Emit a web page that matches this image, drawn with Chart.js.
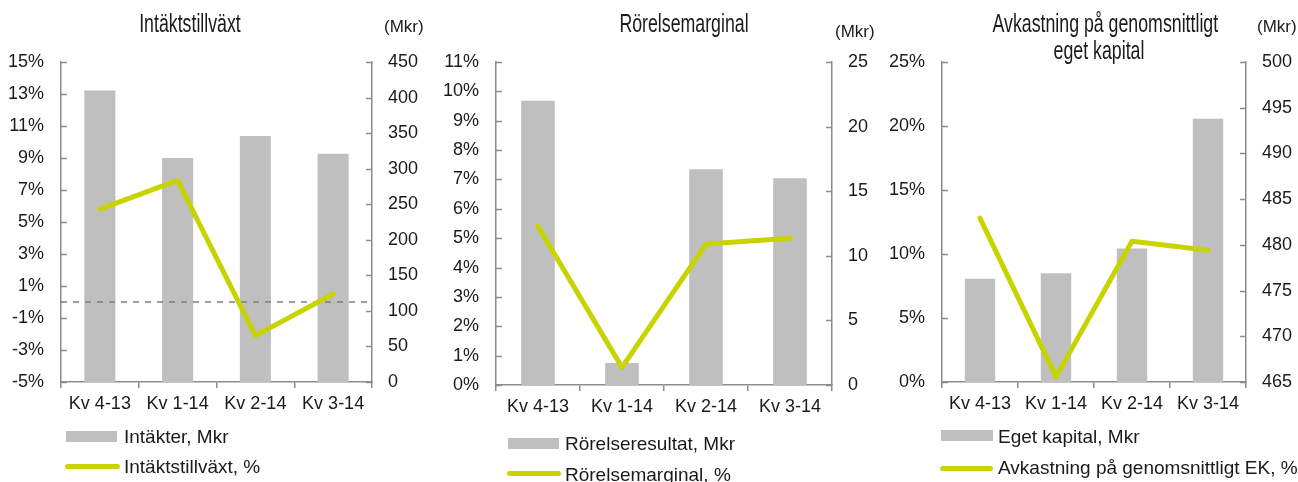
<!DOCTYPE html>
<html lang="sv">
<head>
    <meta charset="UTF-8">
    <title>Intäktstillväxt, Rörelsemarginal, Avkastning</title>
    <script src="https://cdn.jsdelivr.net/npm/chart.js"></script>
    <style>
        body { margin: 0; width: 1298px; height: 482px; overflow: hidden; background: #fff; position: relative; font-family: "Liberation Sans", Arial, sans-serif; color: #1a1a1a; }
        canvas { position: absolute; top: 0; }
        .title { position: absolute; font-family: "Liberation Sans", Arial, sans-serif; font-size: 25px; line-height: 27px; text-align: center; white-space: nowrap; transform: scaleX(0.71); transform-origin: center; }
        .unit { position: absolute; font-size: 17px; line-height: 17px; white-space: nowrap; }
        .leg { position: absolute; font-size: 19px; line-height: 19px; white-space: nowrap; }
        .box { position: absolute; background: #bfbfbf; }
        .ln { position: absolute; height: 5px; border-radius: 3px; background: #c8d400; }
    </style>
</head>
<body>
    <canvas id="c1" width="430" height="482" style="left:0px"></canvas>
    <canvas id="c2" width="450" height="482" style="left:430px"></canvas>
    <canvas id="c3" width="428" height="482" style="left:870px"></canvas>

    <div class="title" style="left:40px;width:300px;top:10px">Intäktstillväxt</div>
    <div class="title" style="left:534px;width:300px;top:10px">Rörelsemarginal</div>
    <div class="title" style="left:949px;width:300px;top:10px">Avkastning på genomsnittligt<br>eget kapital</div>

    <div class="unit" style="left:384px;top:18px">(Mkr)</div>
    <div class="unit" style="left:835px;top:23px">(Mkr)</div>
    <div class="unit" style="left:1257px;top:18px">(Mkr)</div>

    <div class="box" style="left:66px;top:431px;width:51px;height:11px"></div>
    <div class="leg" style="left:124px;top:427px">Intäkter, Mkr</div>
    <div class="ln" style="left:65px;top:464px;width:55px"></div>
    <div class="leg" style="left:124px;top:457px">Intäktstillväxt, %</div>

    <div class="box" style="left:508px;top:438px;width:51px;height:11px"></div>
    <div class="leg" style="left:565px;top:434px">Rörelseresultat, Mkr</div>
    <div class="ln" style="left:507px;top:471px;width:54px"></div>
    <div class="leg" style="left:565px;top:465px">Rörelsemarginal, %</div>

    <div class="box" style="left:941px;top:430px;width:52px;height:11px"></div>
    <div class="leg" style="left:998px;top:427px">Eget kapital, Mkr</div>
    <div class="ln" style="left:940px;top:466px;width:53px"></div>
    <div class="leg" style="left:998px;top:458px">Avkastning på genomsnittligt EK, %</div>

    <script>
        // data
        const quarters = ['Kv 4-13', 'Kv 1-14', 'Kv 2-14', 'Kv 3-14'];

        const intakter = [410, 315, 346, 321];
        const intaktstillvaxt = [5.8, 7.6, -2.1, 0.5];

        const rorelseresultat = [22.0, 1.7, 16.7, 16.0];
        const rorelsemarginal = [5.4, 0.6, 4.8, 5.0];

        const egetKapital = [476.3, 476.9, 479.6, 493.8];
        const avkastningEK = [12.8, 0.4, 11.0, 10.3];

        const BAR = '#bfbfbf';
        const LINE = '#c8d400';
        const AXIS = '#8c8c8c';
        const TEXT = '#1a1a1a';
        const FONT = {family: '"Liberation Sans", Arial, sans-serif', size: 18};

        // Y axis ticks point inward in the reference
        const innerTicks = {
            id: 'innerTicks',
            afterDraw(chart) {
                const ctx = chart.ctx;
                const area = chart.chartArea;
                ctx.save();
                ctx.strokeStyle = AXIS;
                ctx.lineWidth = 1.5;
                ['y', 'y1'].forEach(id => {
                    const s = chart.scales[id];
                    const x = id === 'y' ? area.left : area.right;
                    const dir = id === 'y' ? 1 : -1;
                    s.ticks.forEach((t, i) => {
                        const py = Math.round(s.getPixelForTick(i)) + 0.5;
                        ctx.beginPath();
                        ctx.moveTo(x, py);
                        ctx.lineTo(x + dir * 6, py);
                        ctx.stroke();
                    });
                });
                ctx.restore();
            }
        };

        // dashed zero line, drawn over the bars
        const zeroLine = {
            id: 'zeroLine',
            afterDatasetDraw(chart, args, opts) {
                if (!opts.show || args.index !== 0) return;
                const ctx = chart.ctx;
                const y = chart.scales.y.getPixelForValue(0);
                ctx.save();
                ctx.strokeStyle = '#7f7f7f';
                ctx.lineWidth = 1.5;
                ctx.setLineDash([6, 6]);
                ctx.beginPath();
                ctx.moveTo(chart.chartArea.left, y);
                ctx.lineTo(chart.chartArea.right, y);
                ctx.stroke();
                ctx.restore();
            }
        };

        function makeChart(id, opt) {
            const canvas = document.getElementById(id);
            return new Chart(canvas, {
                type: 'bar',
                data: {
                    labels: quarters,
                    datasets: [
                        {
                            type: 'bar',
                            data: opt.bars,
                            backgroundColor: BAR,
                            yAxisID: 'y1',
                            barPercentage: 0.4,
                            categoryPercentage: 1,
                            order: 1
                        },
                        {
                            type: 'line',
                            data: opt.line,
                            borderColor: LINE,
                            borderWidth: 5,
                            tension: 0,
                            pointRadius: 0,
                            borderCapStyle: 'round',
                            borderJoinStyle: 'round',
                            yAxisID: 'y',
                            order: 0
                        }
                    ]
                },
                options: {
                    responsive: false,
                    animation: false,
                    layout: {padding: {top: opt.top, left: 0, right: 0, bottom: 0}},
                    plugins: {
                        legend: {display: false},
                        tooltip: {enabled: false},
                        zeroLine: {show: !!opt.zero}
                    },
                    scales: {
                        x: {
                            grid: {display: true, drawOnChartArea: false, drawTicks: true, tickLength: 6, offset: true, color: AXIS, lineWidth: 1.5},
                            border: {color: AXIS, width: 1.5},
                            ticks: {font: FONT, color: TEXT, padding: 5, maxRotation: 0},
                            afterFit: s => { s.height = 482 - opt.bottom; }
                        },
                        y: {
                            position: 'left',
                            min: opt.yMin, max: opt.yMax,
                            grid: {display: false, drawTicks: false},
                            border: {color: AXIS, width: 1.5},
                            ticks: {stepSize: opt.yStep, font: FONT, color: TEXT, padding: 17, callback: v => v + '%'},
                            afterFit: s => { s.width = opt.left; }
                        },
                        y1: {
                            position: 'right',
                            min: opt.rMin, max: opt.rMax,
                            grid: {display: false, drawTicks: false},
                            border: {color: AXIS, width: 1.5},
                            ticks: {stepSize: opt.rStep, font: FONT, color: TEXT, padding: 16},
                            afterFit: s => { s.width = canvas.width - opt.right; }
                        }
                    }
                },
                plugins: [innerTicks, zeroLine]
            });
        }

        makeChart('c1', {
            bars: intakter, line: intaktstillvaxt,
            yMin: -5, yMax: 15, yStep: 2,
            rMin: 0, rMax: 450, rStep: 50,
            left: 61, right: 372, top: 62, bottom: 382, zero: true
        });

        makeChart('c2', {
            bars: rorelseresultat, line: rorelsemarginal,
            yMin: 0, yMax: 11, yStep: 1,
            rMin: 0, rMax: 25, rStep: 5,
            left: 66, right: 402, top: 62, bottom: 385
        });

        makeChart('c3', {
            bars: egetKapital, line: avkastningEK,
            yMin: 0, yMax: 25, yStep: 5,
            rMin: 465, rMax: 500, rStep: 5,
            left: 72, right: 376, top: 62, bottom: 382
        });
    </script>
</body>
</html>
